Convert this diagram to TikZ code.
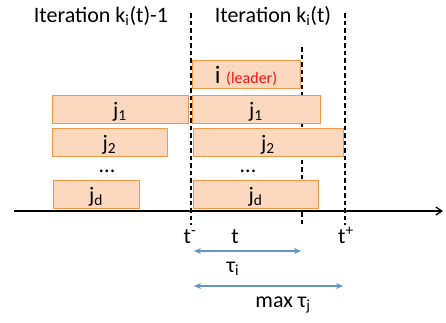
\documentclass[tikz,border=0pt]{standalone}
\usepackage{fontspec}
\setmainfont{Carlito}
\usetikzlibrary{arrows.meta,positioning}
\definecolor{boxfill}{RGB}{252,217,190}
\definecolor{boxline}{RGB}{247,150,70}
\definecolor{spanblue}{RGB}{100,150,205}
\definecolor{leadred}{RGB}{245,20,20}

\begin{document}
\begin{tikzpicture}[x=1pt, y=-1pt,
    task/.style={rectangle, draw=boxline, fill=boxfill, line width=1pt, inner sep=0pt, minimum height=28pt, text height=22pt, text depth=6pt, font=\fontsize{22}{22}\selectfont},
    bound/.style={black, line width=1.3pt, dash pattern=on 4.5pt off 3pt},
    span/.style={{Stealth[length=7pt,width=6pt]}-{Stealth[length=7pt,width=6pt]}, spanblue, line width=1.6pt},
    lbl/.style={anchor=base, inner sep=0pt, font=\fontsize{22}{22}\selectfont}
]
\useasboundingbox (0,0) rectangle (446,322);

% Iteration titles
\node[lbl] (prevtitle) at (101,22) {Iteration k\textsubscript{i}(t)-1};
\node[lbl] (curtitle) at (273,22) {Iteration k\textsubscript{i}(t)};

% Time bounds
\coordinate (tminustop) at (191,13);
\coordinate (tminusbot) at (191,225);
\coordinate (tnowtop) at (302,47);
\coordinate (tnowbot) at (302,225);
\coordinate (tplustop) at (345,13);
\coordinate (tplusbot) at (345,225);
\draw[bound] (tminustop) -- (tminusbot);
\draw[bound] (tnowtop) -- (tnowbot);
\draw[bound] (tplustop) -- (tplusbot);

% Leader
\node[task, minimum width=108pt, text height=23pt, text depth=5pt] (leader) at (246,74) {\fontsize{25}{25}\selectfont i {\fontsize{16}{16}\selectfont\color{leadred}(leader)}};

% Previous iteration
\node[task, minimum width=136pt] (prevj1) at (120,109) {j\textsubscript{1}};
\node[task, minimum width=115pt] (prevj2) at (109.5,142) {j\textsubscript{2}};
\node[lbl] (prevdots) at (107,172) {...};
\node[task, minimum width=86pt] (prevjd) at (96,194) {j\textsubscript{d}};

% Current iteration
\node[task, minimum width=128pt] (curj1) at (256,109) {j\textsubscript{1}};
\node[task, minimum width=150pt] (curj2) at (268,142) {j\textsubscript{2}};
\node[lbl] (curdots) at (248,172) {...};
\node[task, minimum width=125pt] (curjd) at (255.5,194) {j\textsubscript{d}};

% Time axis
\coordinate (axisstart) at (14,211);
\coordinate (axisend) at (443,211);
\draw[-{Straight Barb[length=6pt,width=8pt]}, line width=1.3pt] (axisstart) -- (axisend);

% Axis labels
\node[lbl] (tminus) at (190,243) {t\textsuperscript{-}};
\node[lbl] (tnow) at (235,243) {t};
\node[lbl] (tplus) at (346,243) {t\textsuperscript{+}};

% Delays
\coordinate (tauistart) at (194,251);
\coordinate (tauiend) at (301,251);
\draw[span] (tauistart) -- (tauiend);
\node[lbl] (taui) at (233,272) {τ\textsubscript{i}};
\coordinate (taujstart) at (194,286);
\coordinate (taujend) at (343,286);
\draw[span] (taujstart) -- (taujend);
\node[lbl] (tauj) at (283,307) {max τ\textsubscript{j}};

\end{tikzpicture}
\end{document}
